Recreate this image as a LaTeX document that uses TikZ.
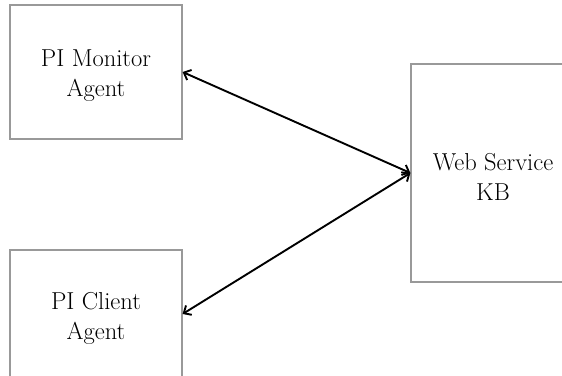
\documentclass[tikz,border=0pt]{standalone}
\usetikzlibrary{arrows.meta, positioning}

\begin{document}
\begin{tikzpicture}[
  x=1pt, y=-1pt,
  every node/.style = {font=\fontsize{24.5}{30}\selectfont},
  agent/.style = {
    draw=gray!80,
    line width=1.2pt,
    inner sep=0pt
  },
  caption/.style = {
    align=center,
    yshift=-4pt
  },
  link/.style = {
    {Straight Barb[length=6pt,width=11pt]}-{Straight Barb[length=6pt,width=11pt]},
    black,
    line width=1.9pt
  }
]

\clip (0,0) rectangle (562,375);

\node[agent, minimum width=172pt, minimum height=134pt,
  label={[caption]center:PI Monitor\\Agent}] (monitor) at (96,72) {};

\node[agent, minimum width=172pt, minimum height=128pt,
  label={[caption]center:PI Client\\Agent}] (client) at (96,314) {};

\node[agent, minimum width=164pt, minimum height=218pt,
  label={[caption]center:Web Service\\KB}] (kb) at (493,173) {};

\draw[link] (monitor.east) -- (kb.west);
\draw[link] (client.east) -- (kb.west);

\end{tikzpicture}
\end{document}
